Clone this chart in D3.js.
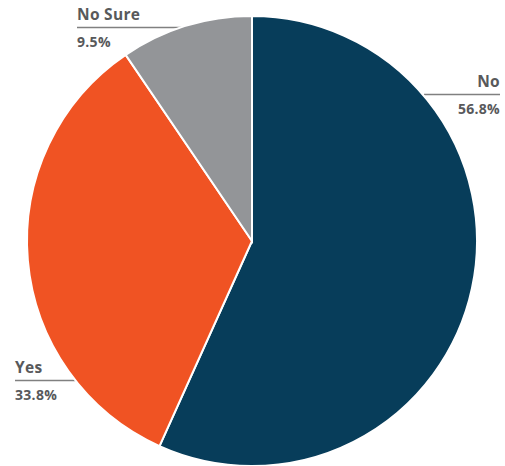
<html>
<meta charset="utf-8" />
<head>
<title>Pie chart</title>
<script src="https://cdn.jsdelivr.net/npm/d3@7/dist/d3.min.js"></script>
<style>
	body { margin: 0; background: #fff; }
	text { font-family: "Open Sans", sans-serif; font-weight: bold; fill: #58595b; }
</style>
</head>
<body>
<svg width="505" height="466"></svg>
<script>
const labels = ['No', 'Yes', 'No Sure'];
const values = [56.8, 33.8, 9.5];
const colors = ['#073d5a', '#f05323', '#939598'];

// label boxes: anchor x, name baseline y, line from/to, alignment
const labelPos = [
	{ x: 500, y: 87, x1: 424, x2: 500, anchor: 'end' },
	{ x: 15, y: 373, x1: 15, x2: 80, anchor: 'start' },
	{ x: 77, y: 20, x1: 77, x2: 185, anchor: 'start' }
];

const svg = d3.select('svg');
const cx = 252, cy = 241, r = 225;

const color = d3.scaleOrdinal().domain(labels).range(colors);

let pie = d3.pie().sort(null).value((d, i) => values[i]);
let arc = d3.arc().innerRadius(0).outerRadius(r);

let lg = svg.append('g');
labels.forEach((name, i) => {
	let p = labelPos[i];
	lg.append('line')
		.attr('x1', p.x1).attr('x2', p.x2)
		.attr('y1', p.y + 7.5).attr('y2', p.y + 7.5)
		.style('stroke', '#808080')
		.style('stroke-width', 1.5);
	lg.append('text')
		.attr('x', p.x).attr('y', p.y)
		.attr('text-anchor', p.anchor)
		.style('font-size', '15.5px')
		.style('letter-spacing', '0.3px')
		.text(name);
	lg.append('text')
		.attr('x', p.x).attr('y', p.y + 27)
		.attr('text-anchor', p.anchor)
		.style('font-size', '14px')
		.style('letter-spacing', '0.3px')
		.text(values[i].toFixed(1) + '%');
});

svg.append('g')
	.attr('transform', `translate(${cx},${cy})`)
	.selectAll('path')
	.data(pie(labels))
	.enter()
	.append('path')
	.attr('d', arc)
	.style('fill', d => color(d.data))
	.style('stroke', '#fff')
	.style('stroke-width', 2);
</script>
</body>
</html>
